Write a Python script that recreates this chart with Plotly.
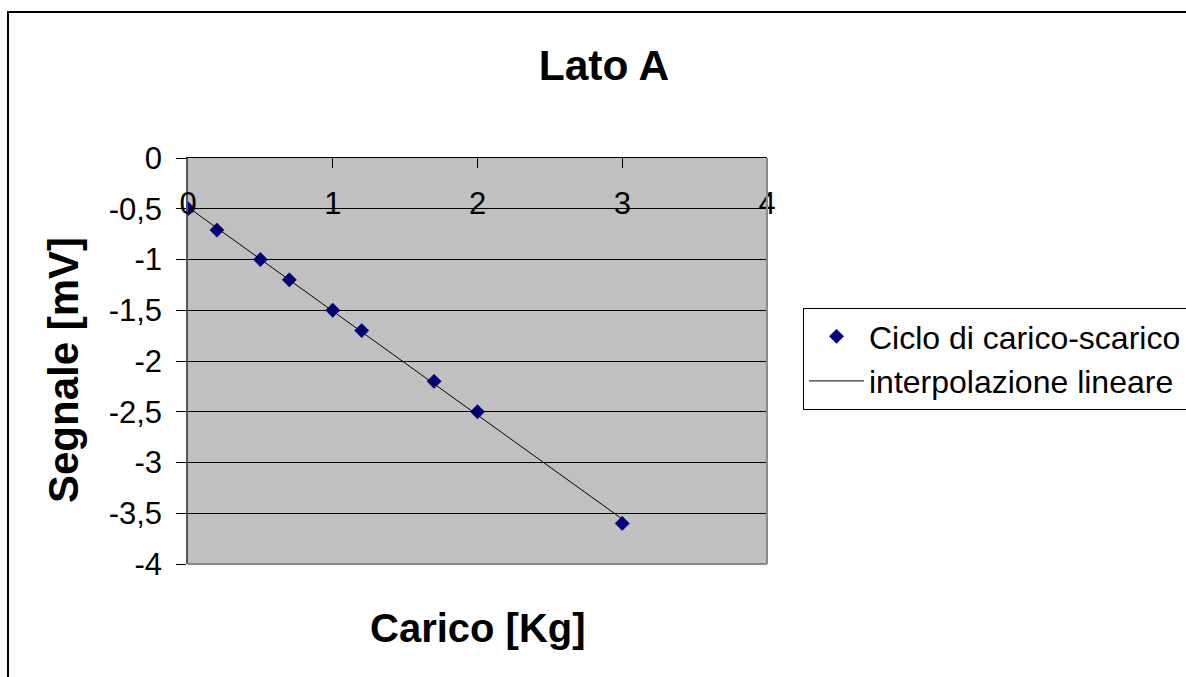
import numpy as np
import plotly.graph_objects as go

# ---- data ----
carico = [0, 0.2, 0.5, 0.7, 1.0, 1.2, 1.7, 2.0, 3.0]
segnale = [-0.5, -0.71, -1.0, -1.2, -1.5, -1.7, -2.2, -2.5, -3.6]
x_tick_vals = [0, 1, 2, 3, 4]
x_tick_labels = ["0", "1", "2", "3", "4"]
y_tick_vals = [0, -0.5, -1, -1.5, -2, -2.5, -3, -3.5, -4]
y_tick_labels = ["0", "-0,5", "-1", "-1,5", "-2", "-2,5", "-3", "-3,5", "-4"]

series_name = "Ciclo di carico-scarico"
fit_name = "interpolazione lineare"
title_text = "Lato A"
x_title = "Carico [Kg]"
y_title = "Segnale [mV]"

# linear fit over data range
slope, intercept = np.polyfit(carico, segnale, 1)
fit_x = [min(carico), max(carico)]
fit_y = [slope * v + intercept for v in fit_x]

# ---- layout geometry (pixels) ----
W, H = 1186, 677
L, R, T, B = 188, 767, 158, 564
pw, ph = R - L, B - T


def px(xp):
    return (xp - L) / pw


def py(yp):
    return 1 - (yp - T) / ph


FONT = "Liberation Sans, Arial, sans-serif"

fig = go.Figure()
fig.add_trace(go.Scatter(
    x=carico, y=segnale, mode="markers", name=series_name,
    marker=dict(symbol="diamond", size=11, color="#000080",
                line=dict(color="#000060", width=0.5)),
))
fig.add_trace(go.Scatter(
    x=fit_x, y=fit_y, mode="lines", name=fit_name,
    line=dict(color="black", width=1),
))

fig.update_layout(
    width=W, height=H,
    margin=dict(l=L, r=W - R, t=T, b=H - B, autoexpand=False),
    paper_bgcolor="white",
    plot_bgcolor="#C0C0C0",
    font=dict(family=FONT, color="black", size=31),
    title=dict(text=title_text, x=px(604), xref="paper", xanchor="center",
               y=1 - 65 / H, yref="container", yanchor="middle",
               font=dict(family=FONT, size=42.5, weight="bold", color="black")),
    showlegend=True,
    legend=dict(x=px(803), y=py(308), xanchor="left", yanchor="top",
                bgcolor="white", bordercolor="black", borderwidth=1,
                font=dict(family=FONT, size=32, color="black"),
                itemwidth=55, tracegroupgap=0),
    xaxis=dict(range=[0, 4], side="top", tickvals=x_tick_vals, ticktext=x_tick_labels,
               ticks="inside", ticklen=10, tickcolor="black", tickwidth=1,
               ticklabelposition="inside", ticklabeloverflow="allow",
               ticklabelstandoff=28,
               showgrid=False, zeroline=False,
               showline=True, linecolor="black", linewidth=1,
               tickfont=dict(family=FONT, size=31, color="black")),
    yaxis=dict(range=[-4, 0], tickvals=y_tick_vals, ticktext=y_tick_labels,
               ticks="outside", ticklen=10, tickcolor="black", tickwidth=1,
               ticklabelstandoff=8,
               showgrid=True, gridcolor="black", gridwidth=1, zeroline=False,
               showline=True, linecolor="#555555", linewidth=1.5,
               tickfont=dict(family=FONT, size=31, color="black")),
    annotations=[
        dict(text=x_title, xref="paper", yref="paper", x=0.5, y=py(628),
             xanchor="center", yanchor="middle", showarrow=False,
             font=dict(family=FONT, size=40, weight="bold", color="black")),
        dict(text=y_title, xref="paper", yref="paper", x=px(63), y=py(370),
             xanchor="center", yanchor="middle", textangle=-90, showarrow=False,
             font=dict(family=FONT, size=42, weight="bold", color="black")),
    ],
    shapes=[
        # plot area right & bottom edges
        dict(type="line", xref="paper", yref="paper", x0=1, x1=1, y0=0, y1=1,
             line=dict(color="#8a8a8a", width=2)),
        dict(type="line", xref="paper", yref="paper", x0=0, x1=1, y0=0, y1=0,
             line=dict(color="#8a8a8a", width=2)),
        # outer chart border
        dict(type="rect", xref="paper", yref="paper", x0=px(8), y0=py(W + 200),
             x1=px(W + 200), y1=py(12), line=dict(color="black", width=2),
             fillcolor="rgba(0,0,0,0)", layer="below"),
    ],
)

fig.write_html("out.html", config={"displayModeBar": False},
               post_script="document.body.style.margin='0';document.body.style.overflow='hidden';")
